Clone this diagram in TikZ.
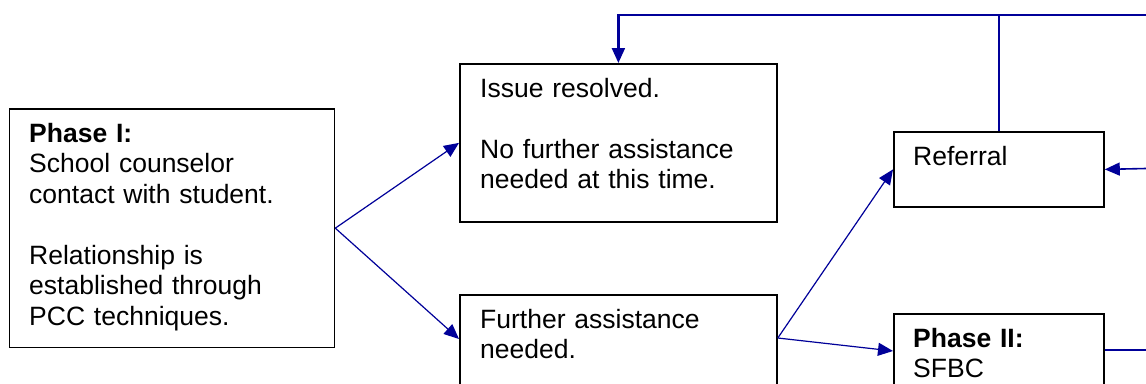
\documentclass[tikz,border=0pt]{standalone}
\usepackage{fontspec}
\setmainfont{Liberation Sans}
\usetikzlibrary{arrows.meta,calc}
\definecolor{flow}{RGB}{0,0,153}
\tikzset{
  box/.style={draw=black, line width=1.8pt, inner sep=0pt, anchor=north west},
  boxtext/.style={inner sep=0pt, anchor=base west, align=left, text width=300pt,
    font=\fontsize{26.5pt}{30.5pt}\selectfont},
  tip/.style={-{Triangle[length=15pt,width=13pt]}},
  flowarrow/.style={draw=flow, line width=1.2pt, tip},
  flowline/.style={draw=flow, line width=2.2pt}
}
\begin{document}
\begin{tikzpicture}[x=1pt,y=-1pt]
\clip (0,0) rectangle (1146,383);
\fill[white] (0,0) rectangle (1146,383);

% boxes
\node[box, minimum width=325pt, minimum height=238.5pt] (p1) at (8.5,108) {};
\node[box, minimum width=317pt, minimum height=158pt] (iss) at (459,63) {};
\node[box, minimum width=317pt, minimum height=150pt] (fa) at (459,294) {};
\node[box, minimum width=210pt, minimum height=75pt] (ref) at (893,131) {};
\node[box, minimum width=210pt, minimum height=120pt] (p2) at (893,313) {};

% box texts
\node[boxtext] (p1t) at (29,142) {\textbf{Phase I:}\\School counselor\\contact with student.\\[30.5pt]Relationship is\\established through\\PCC techniques.};
\node[boxtext] (isst) at (480,97) {Issue resolved.\\[30.5pt]No further assistance\\needed at this time.};
\node[boxtext] (fat) at (480,328) {Further assistance\\needed.};
\node[boxtext] (reft) at (913,165) {Referral};
\node[boxtext] (p2t) at (913,347) {\textbf{Phase II:}\\SFBC};

% free ends at the right edge
\coordinate (topR) at (1146,15);
\coordinate (refIn) at (1146,168.5);
\coordinate (p2out) at (1146,350);

% connectors
\draw[flowarrow] (p1.east) -- (iss.west);
\draw[flowarrow] (p1.east) -- ($(fa.north west)+(0,45)$);
\draw[flowarrow] ($(fa.north east)+(0,44)$) -- (ref.west);
\draw[flowarrow] ($(fa.north east)+(0,44)$) -- ($(p2.north west)+(0,38)$);
\draw[flowline] (ref.north) -- (ref.north |- topR);
\draw[flowline, tip] (topR) -| (iss.north);
\draw[draw=flow, line width=1.6pt, tip] (refIn) -- (ref.east);
\draw[flowline] ($(p2.north east)+(0,37)$) -- (p2out);
\end{tikzpicture}
\end{document}
